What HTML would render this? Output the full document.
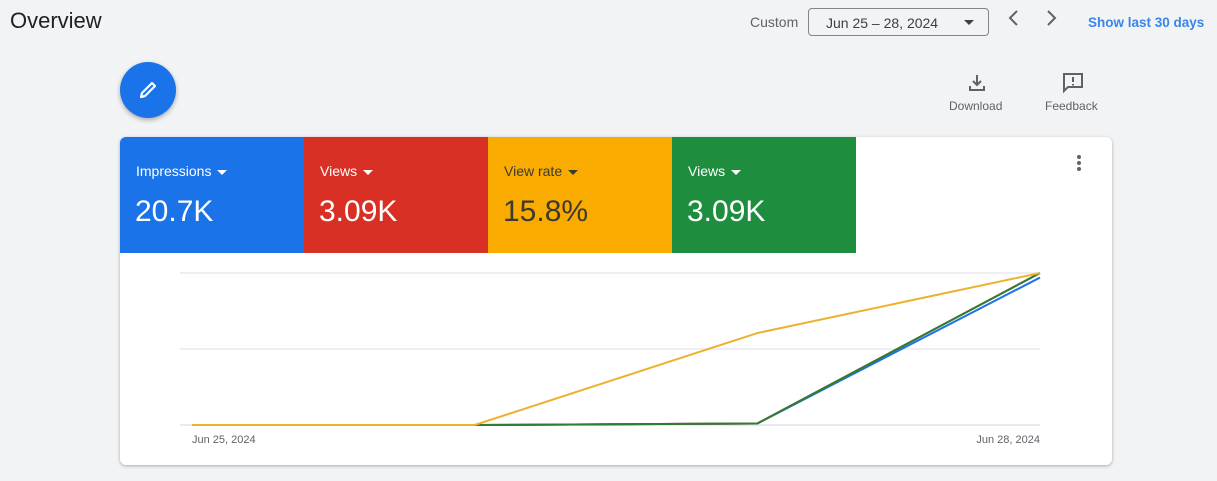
<!DOCTYPE html>
<html><head><meta charset="utf-8"><style>
body{margin:0;width:1217px;height:481px;background:#f1f3f4;font-family:"Liberation Sans",sans-serif;position:relative;overflow:hidden}
.abs{position:absolute}
.title{left:10px;top:8px;font-size:22px;color:#202124}
.custom{left:750px;top:14px;font-size:14px;color:#5f6368}
.date{left:808px;top:8px;width:179px;height:26px;border:1px solid #80868b;border-radius:4px;font-size:14px;color:#3c4043;box-sizing:content-box}
.date span{position:absolute;left:17px;top:6px}
.date i{position:absolute;right:14px;top:11px;border-left:5px solid transparent;border-right:5px solid transparent;border-top:5px solid #3c4043}
.nav{top:8px;font-size:20px;color:#5f6368}
.show{left:1088px;top:15px;font-size:13.5px;color:#1a73e8;font-weight:bold;opacity:.85}
.fab{left:120px;top:62px;width:56px;height:56px;border-radius:50%;background:#1a73e8;box-shadow:0 2px 5px rgba(0,0,0,.3)}
.tool{font-size:12px;color:#5f6368;text-align:center;top:99px}
.card{left:120px;top:137px;width:992px;height:328px;background:#fff;border-radius:6px;box-shadow:0 1px 3px rgba(0,0,0,.3);overflow:hidden}
.tile{position:absolute;top:0;width:184px;height:116px;color:#fff}
.tile .l{position:absolute;left:16px;top:26px;font-size:14px}
.tile .v{position:absolute;left:15px;top:58px;font-size:30px}
.tri{display:inline-block;margin-left:6px;vertical-align:middle;border-left:5px solid transparent;border-right:5px solid transparent;border-top:5px solid currentColor}
</style></head><body>
<div class="abs title">Overview</div>
<div class="abs custom">Custom</div>
<div class="abs date"><span>Jun 25 – 28, 2024</span><i></i></div>
<div class="abs nav" style="left:1006px"><svg width="16" height="20"><path d="M11 3 L4 10 L11 17" stroke="#5f6368" stroke-width="2" fill="none"/></svg></div>
<div class="abs nav" style="left:1044px"><svg width="16" height="20"><path d="M4 3 L11 10 L4 17" stroke="#5f6368" stroke-width="2" fill="none"/></svg></div>
<div class="abs show">Show last 30 days</div>
<div class="abs fab"><svg width="56" height="56"><path d="M21 35 L22 31 L32 21 L35 24 L25 34 Z" fill="none" stroke="#fff" stroke-width="2.2" stroke-linejoin="round"/></svg></div>
<div class="abs" style="left:967px;top:73px"><svg width="20" height="20"><path d="M10 2 V12 M6 8 L10 12 L14 8 M3 13 V17 H17 V13" stroke="#5f6368" stroke-width="2" fill="none"/></svg></div>
<div class="abs tool" style="left:949px">Download</div>
<div class="abs" style="left:1062px;top:72px"><svg width="22" height="22"><path d="M2 2 H20 V15 H6 L2 19 Z" stroke="#5f6368" stroke-width="2" fill="none"/><path d="M11 5 V10 M11 12 V13.5" stroke="#5f6368" stroke-width="2"/></svg></div>
<div class="abs tool" style="left:1045px">Feedback</div>
<div class="abs card">
<div class="tile" style="left:0;background:#1a73e8"><div class="l">Impressions<span class="tri"></span></div><div class="v">20.7K</div></div>
<div class="tile" style="left:184px;background:#d93025"><div class="l">Views<span class="tri"></span></div><div class="v">3.09K</div></div>
<div class="tile" style="left:368px;background:#f9ab00;color:#3c3a2e"><div class="l">View rate<span class="tri"></span></div><div class="v">15.8%</div></div>
<div class="tile" style="left:552px;background:#1e8e3e"><div class="l">Views<span class="tri"></span></div><div class="v">3.09K</div></div>
<div class="abs" style="left:956px;top:17px"><svg width="6" height="18"><circle cx="3" cy="3" r="2" fill="#5f6368"/><circle cx="3" cy="9" r="2" fill="#5f6368"/><circle cx="3" cy="15" r="2" fill="#5f6368"/></svg></div>
<svg id="chart" class="abs" style="left:0;top:0" width="992" height="328"></svg>
</div>
<script>
const categories=["Jun 25, 2024","Jun 26, 2024","Jun 27, 2024","Jun 28, 2024"];
const tickLabels=["Jun 25, 2024","Jun 28, 2024"];
const impressions=[0,0,0.01,0.97];
const views=[0,0,0.01,1];
const viewRate=[0,0,0.605,1];
const views2=[0,0,0.01,1];
const svg=document.getElementById('chart');
const NS='http://www.w3.org/2000/svg';
const x0=72,x1=920,yb=288,yt=136;
const xs=i=>x0+(x1-x0)*i/(categories.length-1);
const ys=v=>yb-(yb-yt)*v;
[0,0.5,1].forEach(g=>{const l=document.createElementNS(NS,'line');


l.setAttribute('x1',60);l.setAttribute('x2',x1);l.setAttribute('y1',ys(g));l.setAttribute('y2',ys(g));
l.setAttribute('stroke','#e8eaed');l.setAttribute('stroke-width',g===0?2:1.5);svg.appendChild(l);});
tickLabels.forEach((t,k)=>{const i=categories.indexOf(t);const tx=document.createElementNS(NS,'text');


tx.setAttribute('x',xs(i));tx.setAttribute('y',306);tx.setAttribute('font-size','11');tx.setAttribute('fill','#5f6368');
tx.setAttribute('text-anchor',k===0?'start':'end');tx.textContent=t;svg.appendChild(tx);});
[[impressions,'#1a73e8','impressions-line'],[views,'#d93025','views-line'],[views2,'#2e7d32','views-line-2'],[viewRate,'#ecb22e','view-rate-line']].forEach(([d,c,n])=>{
const p=document.createElementNS(NS,'polyline');


p.setAttribute('points',d.map((v,i)=>xs(i)+','+ys(v)).join(' '));
p.setAttribute('fill','none');p.setAttribute('stroke',c);p.setAttribute('stroke-width',2);svg.appendChild(p);});
</script>
</body></html>
